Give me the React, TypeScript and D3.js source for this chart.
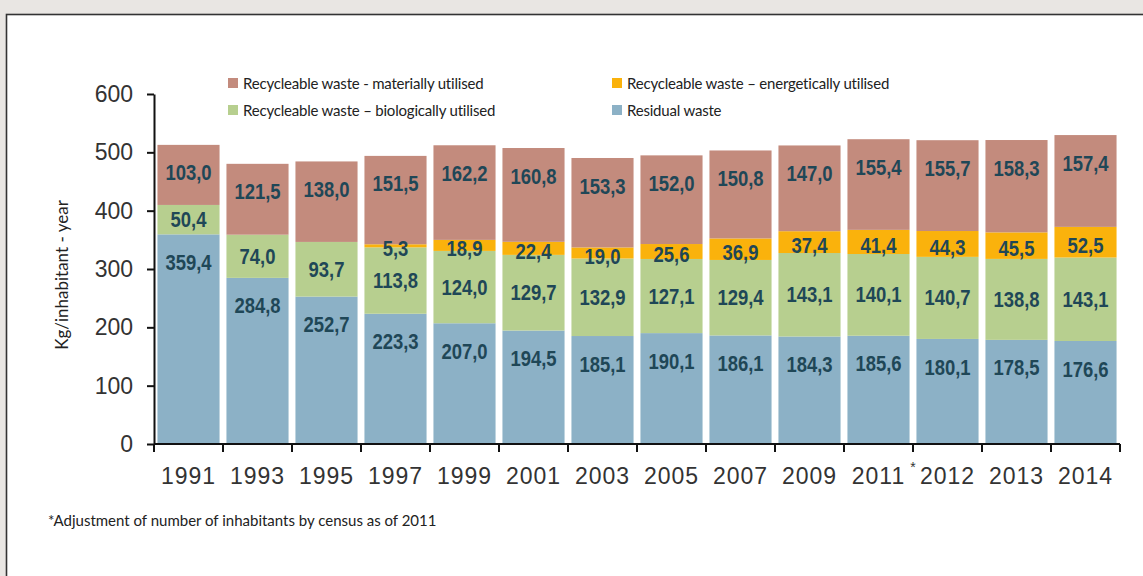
import React, { useRef, useEffect } from 'react';
import * as d3 from 'd3';

const years: string[] = ['1991', '1993', '1995', '1997', '1999', '2001', '2003', '2005', '2007', '2009', '2011', '2012', '2013', '2014'];
const residual: number[] = [359.4, 284.8, 252.7, 223.3, 207.0, 194.5, 185.1, 190.1, 186.1, 184.3, 185.6, 180.1, 178.5, 176.6];
const biological: number[] = [50.4, 74.0, 93.7, 113.8, 124.0, 129.7, 132.9, 127.1, 129.4, 143.1, 140.1, 140.7, 138.8, 143.1];
const energetic: number[] = [0, 0, 0, 5.3, 18.9, 22.4, 19.0, 25.6, 36.9, 37.4, 41.4, 44.3, 45.5, 52.5];
const material: number[] = [103.0, 121.5, 138.0, 151.5, 162.2, 160.8, 153.3, 152.0, 150.8, 147.0, 155.4, 155.7, 158.3, 157.4];
const yTicks: number[] = [0, 100, 200, 300, 400, 500, 600];

const seriesKeys = ['residual', 'biological', 'energetic', 'material'];
const colors: Record<string, string> = {
  residual: '#8cb1c6',
  biological: '#b7cf8f',
  energetic: '#fab20c',
  material: '#c38b7d',
};

const legendItems = [
  { key: 'material', label: 'Recycleable waste - materially utilised', col: 0, row: 0 },
  { key: 'energetic', label: 'Recycleable waste \u2013 energetically utilised', col: 1, row: 0 },
  { key: 'biological', label: 'Recycleable waste \u2013 biologically utilised', col: 0, row: 1 },
  { key: 'residual', label: 'Residual waste', col: 1, row: 1 },
];

const fmt = (v: number) => v.toFixed(1).replace('.', ',');

const App: React.FC = () => {
  const svgRef = useRef<SVGSVGElement | null>(null);

  useEffect(() => {
    if (!svgRef.current) return;
    const width = 1143;
    const height = 576;
    const margin = { top: 94, left: 154, right: 23, bottom: 132 };

    const svg = d3.select(svgRef.current).attr('width', width).attr('height', height);
    svg.selectAll('*').remove();

    // background + panel
    svg.append('rect').attr('width', width).attr('height', height).attr('fill', '#e9e6e3');
    svg.append('rect')
      .attr('x', 6.5).attr('y', 14.5)
      .attr('width', width + 20).attr('height', height + 20)
      .attr('fill', '#ffffff').attr('stroke', '#333').attr('stroke-width', 1.6);

    const table = years.map((y, i) => ({
      year: y,
      residual: residual[i],
      biological: biological[i],
      energetic: energetic[i],
      material: material[i],
    }));

    const x = d3.scaleBand()
      .domain(years)
      .range([margin.left, width - margin.right])
      .paddingInner(0.1)
      .paddingOuter(0.05);

    const y = d3.scaleLinear()
      .domain([0, 600])
      .range([height - margin.bottom, margin.top]);

    const stack = d3.stack<any>().keys(seriesKeys);
    const layers = stack(table);

    const g = svg.append('g');
    layers.forEach((layer) => {
      g.append('g')
        .attr('fill', colors[layer.key])
        .selectAll('rect')
        .data(layer)
        .join('rect')
        .attr('x', (d: any) => x(d.data.year) as number)
        .attr('width', x.bandwidth())
        .attr('y', (d) => y(d[1]))
        .attr('height', (d) => y(d[0]) - y(d[1]));
    });

    // value labels (condensed bold look via horizontal scale)
    layers.forEach((layer) => {
      g.append('g')
        .selectAll('text')
        .data(layer.filter((d) => d[1] - d[0] > 0))
        .join('text')
        .attr('transform', (d: any) => {
          const cx = (x(d.data.year) as number) + x.bandwidth() / 2;
          let cy = (y(d[0]) + y(d[1])) / 2;
          if (layer.key === 'material' || layer.key === 'residual') cy = y(d[1]) + 28;
          if (layer.key === 'energetic') cy = cy + 3;
          return `translate(${cx},${cy}) scale(0.84,1)`;
        })
        .attr('text-anchor', 'middle')
        .attr('dominant-baseline', 'central')
        .attr('font-family', '"Liberation Sans", Arial, sans-serif')
        .attr('font-weight', 'bold')
        .attr('font-size', 22)
        .attr('fill', '#1f4757')
        .text((d) => fmt(d[1] - d[0]));
    });

    // y axis
    const yAxis = svg.append('g')
      .attr('transform', `translate(${margin.left},0)`)
      .call(d3.axisLeft(y).tickValues(yTicks).tickSize(7).tickPadding(14).tickSizeOuter(0));
    yAxis.select('.domain').attr('stroke', '#111').attr('stroke-width', 2);
    yAxis.selectAll('.tick line').attr('stroke', '#111').attr('stroke-width', 2);
    yAxis.selectAll('.tick text')
      .attr('font-family', '"Liberation Sans", Arial, sans-serif')
      .attr('font-size', 23)
      .attr('fill', '#333');

    // x axis with ticks at band boundaries
    const xAxisG = svg.append('g').attr('transform', `translate(0,${y(0)})`);
    xAxisG.append('line')
      .attr('x1', margin.left).attr('x2', width - margin.right)
      .attr('stroke', '#111').attr('stroke-width', 2);
    const step = x.step();
    const bounds = years.map((yr) => (x(yr) as number) - (step - x.bandwidth()) / 2).concat([width - margin.right]);
    xAxisG.selectAll('line.tk')
      .data(bounds)
      .join('line')
      .attr('class', 'tk')
      .attr('x1', (d) => d).attr('x2', (d) => d)
      .attr('y1', 0).attr('y2', 8)
      .attr('stroke', '#111').attr('stroke-width', 2);
    xAxisG.selectAll('text.lbl')
      .data(years)
      .join('text')
      .attr('class', 'lbl')
      .attr('x', (d) => (x(d) as number) + x.bandwidth() / 2)
      .attr('y', 40)
      .attr('text-anchor', 'middle')
      .attr('font-family', '"Liberation Sans", Arial, sans-serif')
      .attr('font-size', 23)
      .attr('letter-spacing', 1)
      .attr('fill', '#333')
      .text((d) => d);
    // census asterisk after 2011
    xAxisG.append('text')
      .attr('x', (x('2012') as number) - (step - x.bandwidth()) / 2)
      .attr('y', 28)
      .attr('text-anchor', 'middle')
      .attr('font-family', '"Liberation Sans", Arial, sans-serif')
      .attr('font-size', 14)
      .attr('fill', '#333')
      .text('*');

    // y axis title
    svg.append('text')
      .attr('transform', `translate(68,${(y(0) + y(600)) / 2 + 6}) rotate(-90)`)
      .attr('text-anchor', 'middle')
      .attr('font-family', 'Lato, "Open Sans", sans-serif')
      .attr('font-size', 17)
      .attr('fill', '#222')
      .text('Kg/inhabitant - year');

    // legend
    const legend = svg.append('g');
    legendItems.forEach((it) => {
      const lx = it.col === 0 ? 228 : 612;
      const ly = it.row === 0 ? 83 : 110;
      legend.append('rect')
        .attr('x', lx).attr('y', ly - 5)
        .attr('width', 10).attr('height', 10)
        .attr('fill', colors[it.key]);
      legend.append('text')
        .attr('x', lx + 15).attr('y', ly)
        .attr('dominant-baseline', 'central')
        .attr('font-family', 'Lato, "Open Sans", sans-serif')
        .attr('font-size', 15)
        .attr('letter-spacing', -0.2)
        .attr('fill', '#222')
        .text(it.label);
    });

    // footnote
    svg.append('text')
      .attr('x', 48).attr('y', 526)
      .attr('font-family', 'Lato, "Open Sans", sans-serif')
      .attr('font-size', 15)
      .attr('fill', '#222')
      .text('*Adjustment of number of inhabitants by census as of 2011');
  }, []);

  return <svg ref={svgRef} style={{ position: 'absolute', left: 0, top: 0, display: 'block' }}></svg>;
};

export default App;
